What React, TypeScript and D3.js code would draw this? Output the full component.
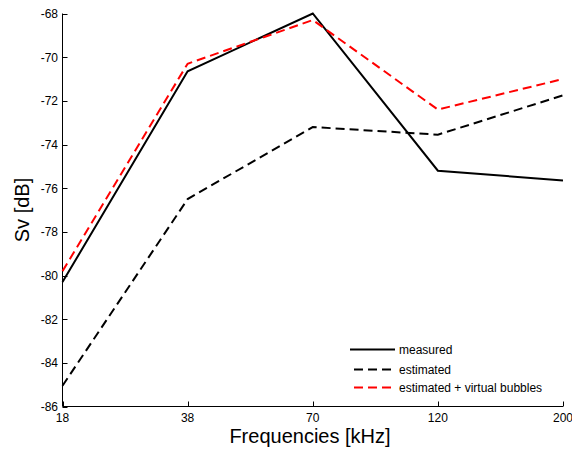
import React from "react";
import * as d3 from "d3";

const categories = ["18", "38", "70", "120", "200"];
const measured = [-80.3, -70.65, -68.0, -75.2, -75.65];
const estimated = [-85.05, -76.5, -73.2, -73.55, -71.75];
const estimatedVirtual = [-79.8, -70.3, -68.3, -72.4, -71.0];
const yTicks = [-86, -84, -82, -80, -78, -76, -74, -72, -70, -68];

const seriesList = [
  { name: "measured", values: measured, color: "#000", dash: null },
  { name: "estimated", values: estimated, color: "#000", dash: "9,5" },
  { name: "estimated + virtual bubbles", values: estimatedVirtual, color: "#ff0000", dash: "9,5" },
];

export default function App() {
  const W = 572, H = 457;
  const left = 62.5, right = 563, top = 13.5, bottom = 406.5;
  const x = d3.scalePoint<string>().domain(categories).range([left, right]);
  const y = d3.scaleLinear().domain([-86, -68]).range([bottom, top]);
  const line = d3.line<number>().x((_, i) => x(categories[i]) as number).y((d) => y(d));
  const font = "'Liberation Sans', Arial, sans-serif";
  const legX = 350, legX2 = 395, legYs = [349.5, 369.5, 387.5];
  return (
    <svg width={W} height={H} style={{ position: "absolute", left: 0, top: 0, background: "#fff" }} fontFamily={font}>
      <rect width={W} height={H} fill="#fff" />
      {/* axes */}
      <line x1={left} x2={left} y1={top} y2={bottom} stroke="#000" strokeWidth={1} />
      <line x1={left} x2={right} y1={bottom} y2={bottom} stroke="#000" strokeWidth={1} />
      {yTicks.map((t) => (
        <g key={t}>
          <line x1={left} x2={left + 5} y1={Math.round(y(t)) + 0.5} y2={Math.round(y(t)) + 0.5} stroke="#000" />
          <text x={58} y={y(t) + 4.5} textAnchor="end" fontSize={12} fill="#000">{t}</text>
        </g>
      ))}
      {categories.map((c) => (
        <g key={c}>
          <line x1={Math.round(x(c) as number) + 0.5} x2={Math.round(x(c) as number) + 0.5} y1={bottom} y2={bottom - 5} stroke="#000" />
          <text x={x(c) as number} y={421.5} textAnchor="middle" fontSize={12} fill="#000">{c}</text>
        </g>
      ))}
      {/* series */}
      {seriesList.map((s) => (
        <path key={s.name} d={line(s.values) || ""} fill="none" stroke={s.color} strokeWidth={2}
          strokeDasharray={s.dash || undefined} />
      ))}
      {/* labels */}
      <text x={310} y={443} textAnchor="middle" fontSize={20} fill="#000">Frequencies [kHz]</text>
      <text transform={`translate(29,${(top + bottom) / 2}) rotate(-90)`} textAnchor="middle" fontSize={20} fill="#000">Sv [dB]</text>
      {/* legend */}
      {seriesList.map((s, i) => (
        <g key={s.name}>
          <line x1={legX} x2={legX2} y1={legYs[i]} y2={legYs[i]} stroke={s.color} strokeWidth={2}
            strokeDasharray={s.dash || undefined} strokeDashoffset={s.dash ? -4 : 0} />
          <text x={399} y={legYs[i] + 4} fontSize={12} fill="#000">{s.name}</text>
        </g>
      ))}
    </svg>
  );
}
